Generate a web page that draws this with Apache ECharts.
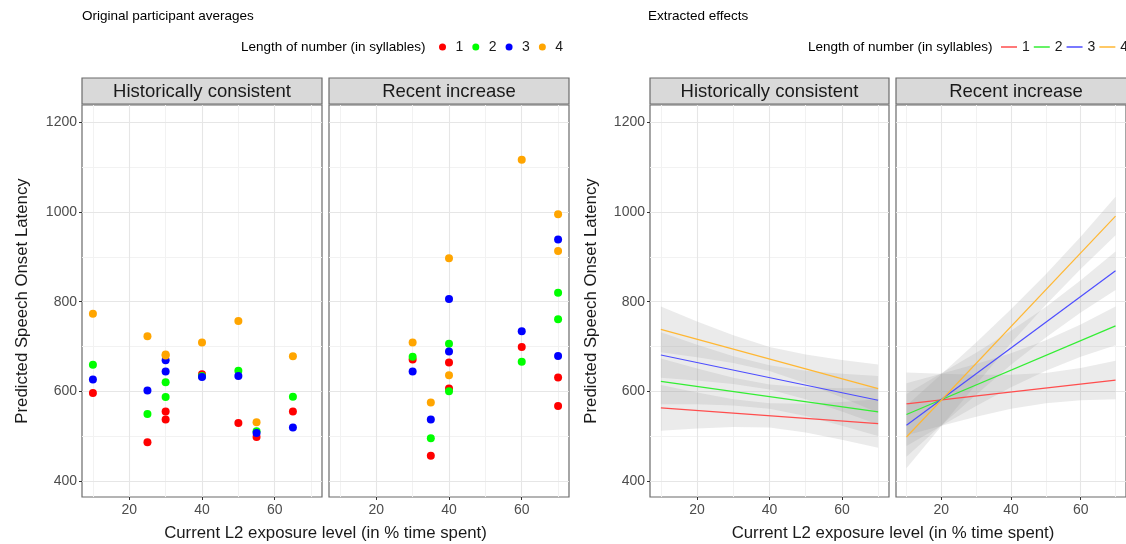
<!DOCTYPE html>
<html><head><meta charset="utf-8">
<script src="https://cdn.jsdelivr.net/npm/echarts@6/dist/echarts.min.js"></script>
<style>html,body{margin:0;padding:0;background:#fff}#c{width:1126px;height:544px}</style>
</head><body><div id="c"></div>
<script>
// ---------- data ----------
const groups = ['1', '2', '3', '4'];
const panels = ['Historically consistent', 'Recent increase'];
const xTicks = [20, 40, 60];
const yTicks = [400, 600, 800, 1000, 1200];
const xMinorGrid = [10, 30, 50, 70];
const yMinorGrid = [500, 700, 900, 1100];

// Original participant averages: [exposure %, latency]
const hc1 = [[10,596],[25,486],[30,555],[30,537],[40,638],[50,529],[55,498],[65,555]];
const hc2 = [[10,659],[25,549],[30,620],[30,587],[40,634],[50,646],[55,511],[65,588]];
const hc3 = [[10,626],[25,602],[30,669],[30,644],[40,632],[50,634],[55,507],[65,519]];
const hc4 = [[10,773],[25,723],[30,682],[30,680],[40,709],[50,757],[55,531],[65,678]];
const ri1 = [[30,671],[35,456],[40,664],[40,606],[60,699],[70,631],[70,567]];
const ri2 = [[30,677],[35,495],[40,706],[40,600],[60,666],[70,820],[70,761]];
const ri3 = [[30,644],[35,537],[40,806],[40,689],[60,734],[70,939],[70,679]];
const ri4 = [[30,709],[35,575],[40,897],[40,636],[60,1117],[70,995],[70,913]];

// Extracted effects: fitted lines at x = 10 and x = 70
const effX = [10, 70];
const effHC = [[563,528],[622,554],[681,580],[738,606]];
const effRI = [[572,625],[548,746],[524,869],[498,991]];

// Confidence bands at bandX
const bandX = [10, 20, 30, 40, 50, 60, 70];
const bandHCLo = [
  [512,517,520,519,508,492,474],
  [571,571,568,561,545,523,500],
  [630,624,616,604,582,555,526],
  [687,676,663,645,618,586,552]];
const bandHCHi = [
  [614,597,582,573,572,576,582],
  [673,651,630,615,609,607,608],
  [732,704,678,658,646,639,634],
  [789,756,725,699,682,670,660]];
const bandRILo = [
  [502,523,543,561,573,580,582],
  [478,523,567,609,646,677,703],
  [454,524,592,659,720,776,826],
  [428,522,615,707,793,873,948]];
const bandRIHi = [
  [642,639,637,637,641,652,668],
  [618,639,661,685,714,749,789],
  [594,640,686,735,788,848,912],
  [568,638,709,783,861,945,1034]];

// ---------- styling / layout ----------
const FONT = '"Liberation Sans", Arial, sans-serif';
const ptColors = ['#ff0000', '#00ff00', '#0000ff', '#ffa500'];
const lnColors = ['#ff4d4d', '#33ee33', '#4d4dff', '#ffb733'];
const border = '#6b6b6b';
const gridPos = [
  {left: 82, width: 240}, {left: 329, width: 240},
  {left: 650, width: 239}, {left: 896, width: 240}];
const TOP = 105, H = 392, XMIN = 7, XMAX = 73, YMIN = 364, YMAX = 1239;

const grids = gridPos.map(g => ({left: g.left, width: g.width, top: TOP, height: H,
  show: true, borderColor: border, borderWidth: 1.2, backgroundColor: 'transparent', containLabel: false}));

const plainNum = v => String(v);
const xAxes = gridPos.map((g, i) => ({
  gridIndex: i, type: 'value', min: XMIN, max: XMAX,
  axisLine: {show: false}, splitLine: {show: false},
  axisTick: {show: true, customValues: xTicks, length: 3, lineStyle: {color: '#333'}},
  axisLabel: {show: true, customValues: xTicks, formatter: plainNum, color: '#4d4d4d', fontSize: 14, fontFamily: FONT, margin: 6}
}));
const yAxes = gridPos.map((g, i) => {
  const shown = (i === 0 || i === 2);
  return {
    gridIndex: i, type: 'value', min: YMIN, max: YMAX,
    axisLine: {show: false}, splitLine: {show: false},
    axisTick: {show: shown, customValues: yTicks, length: 3, lineStyle: {color: '#333'}},
    axisLabel: {show: shown, customValues: yTicks, formatter: plainNum, color: '#4d4d4d', fontSize: 14, fontFamily: FONT, margin: 5}
  };
});

function gridLineSeries(i) {
  const minor = {color: '#f2f2f2', width: 1, type: 'solid'};
  const major = {color: '#e6e6e6', width: 1.1, type: 'solid'};
  const d = [];
  yMinorGrid.forEach(v => d.push({yAxis: v, lineStyle: minor}));
  xMinorGrid.forEach(v => d.push({xAxis: v, lineStyle: minor}));
  yTicks.forEach(v => d.push({yAxis: v, lineStyle: major}));
  xTicks.forEach(v => d.push({xAxis: v, lineStyle: major}));
  return {type: 'line', xAxisIndex: i, yAxisIndex: i, data: [], z: 0, silent: true,
    markLine: {silent: true, z: 0, zlevel: 0, symbol: ['none', 'none'], label: {show: false}, animation: false, data: d}};
}

const series = [];
[0, 1, 2, 3].forEach(i => series.push(gridLineSeries(i)));

const hcPts = [hc1, hc2, hc3, hc4];
const riPts = [ri1, ri2, ri3, ri4];
[hcPts, riPts].forEach((set, p) => {
  set.forEach((pts, gi) => series.push({
    type: 'scatter', name: groups[gi], xAxisIndex: p, yAxisIndex: p, data: pts,
    symbol: 'circle', symbolSize: 8, z: 3, itemStyle: {color: ptColors[gi], opacity: 1}
  }));
});

function bandSeries(axisIdx, lo, hi) {
  return {
    type: 'custom', xAxisIndex: axisIdx, yAxisIndex: axisIdx, z: 1, silent: true, clip: true,
    data: groups.map((g, gi) => [40, 800, gi]), encode: {x: 0, y: 1},
    renderItem: function (params, api) {
      const gi = api.value(2);
      const pts = [];
      for (let k = 0; k < bandX.length; k++) pts.push(api.coord([bandX[k], hi[gi][k]]));
      for (let k = bandX.length - 1; k >= 0; k--) pts.push(api.coord([bandX[k], lo[gi][k]]));
      return {type: 'polygon', shape: {points: pts}, style: {fill: 'rgba(153,153,153,0.2)', stroke: null}};
    }
  };
}
series.push(bandSeries(2, bandHCLo, bandHCHi));
series.push(bandSeries(3, bandRILo, bandRIHi));
[effHC, effRI].forEach((eff, p) => {
  eff.forEach((vals, gi) => series.push({
    type: 'line', name: groups[gi], xAxisIndex: 2 + p, yAxisIndex: 2 + p,
    data: effX.map((x, k) => [x, vals[k]]), symbol: 'none', showSymbol: false, z: 3,
    lineStyle: {color: lnColors[gi], width: 1.2}, itemStyle: {color: lnColors[gi]}
  }));
});

function txt(x, y, text, size, opts) {
  return Object.assign({type: 'text', x: x, y: y, silent: true,
    style: Object.assign({text: text, font: size + 'px ' + FONT, fill: '#1a1a1a',
      align: 'left', verticalAlign: 'middle'}, (opts && opts.style) || {})},
    (opts && opts.el) || {});
}
const graphics = [];
graphics.push(txt(82, 16, 'Original participant averages', 13.5, {style: {fill: '#000'}}));
graphics.push(txt(648, 16, 'Extracted effects', 13.5, {style: {fill: '#000'}}));
graphics.push(txt(241, 47, 'Length of number (in syllables)', 13.5, {style: {fill: '#000'}}));
graphics.push(txt(808, 47, 'Length of number (in syllables)', 13.5, {style: {fill: '#000'}}));
gridPos.forEach((g, i) => {
  graphics.push({type: 'rect', silent: true, shape: {x: g.left, y: 78, width: g.width, height: 26},
    style: {fill: '#d9d9d9', stroke: border, lineWidth: 1.2}});
  graphics.push(txt(g.left + g.width / 2, 91.5, panels[i % 2], 18.5, {style: {align: 'center'}}));
});
graphics.push(txt(325.5, 533, 'Current L2 exposure level (in % time spent)', 16.8, {style: {align: 'center'}}));
graphics.push(txt(893, 533, 'Current L2 exposure level (in % time spent)', 16.8, {style: {align: 'center'}}));
graphics.push(txt(22, 301, 'Predicted Speech Onset Latency', 16.8, {style: {align: 'center'}, el: {rotation: Math.PI / 2}}));
graphics.push(txt(591, 301, 'Predicted Speech Onset Latency', 16.8, {style: {align: 'center'}, el: {rotation: Math.PI / 2}}));

const legendText = {fontSize: 14, color: '#1a1a1a', fontFamily: FONT};
const option = {
  animation: false,
  backgroundColor: '#fff',
  grid: grids, xAxis: xAxes, yAxis: yAxes,
  legend: [
    {data: groups.map((g, gi) => ({name: g, icon: 'circle', itemStyle: {color: ptColors[gi]}})),
     left: 439, top: 40, width: 300, padding: 0, itemWidth: 16, itemHeight: 7, itemGap: 9,
     selectedMode: false, textStyle: legendText},
    {data: groups.map((g, gi) => ({name: g, icon: 'rect', itemStyle: {color: lnColors[gi]}, lineStyle: {color: lnColors[gi]}})),
     left: 1001, top: 40, width: 300, padding: 0, itemWidth: 16, itemHeight: 1.5, itemGap: 4,
     selectedMode: false, textStyle: legendText}
  ],
  graphic: graphics,
  series: series
};
const chart = echarts.init(document.getElementById('c'), null, {renderer: 'canvas'});
chart.setOption(option);
</script>
</body></html>
